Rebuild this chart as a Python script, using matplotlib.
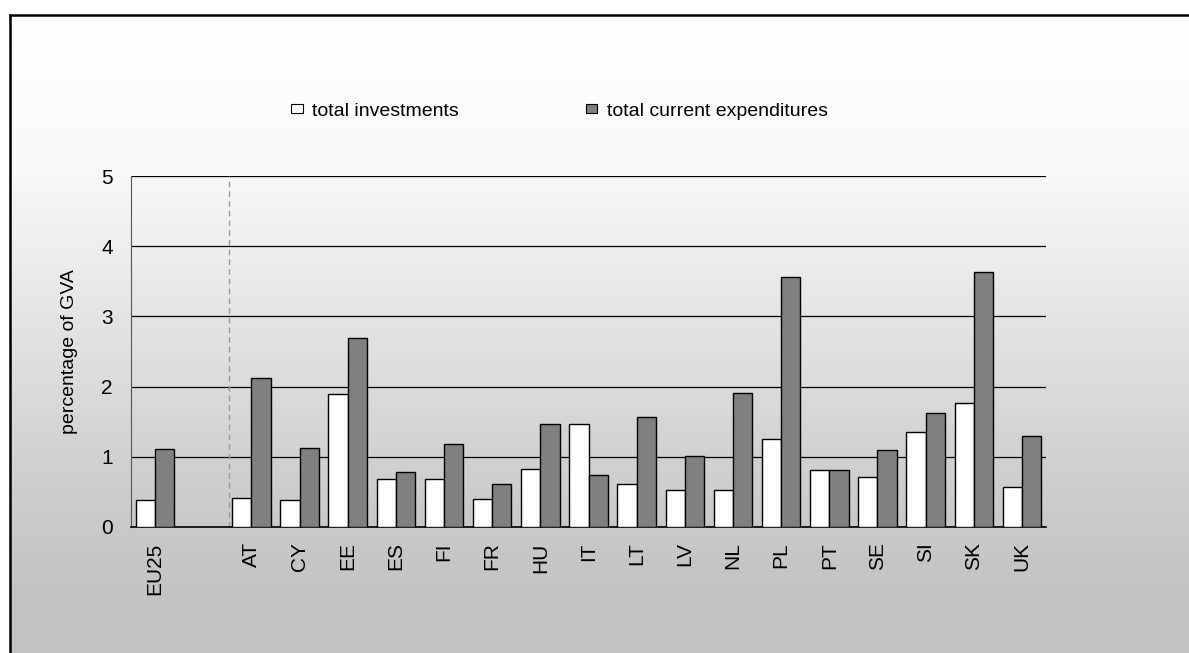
import numpy as np
import matplotlib
matplotlib.use("Agg")
import matplotlib.pyplot as plt
from matplotlib.patches import Patch

plt.rcParams['font.family'] = ['Liberation Sans', 'DejaVu Sans']

countries = ["AT", "CY", "EE", "ES", "FI", "FR", "HU", "IT", "LT",
             "LV", "NL", "PL", "PT", "SE", "SI", "SK", "UK"]
invest_eu = 0.38
current_eu = 1.11
investments = [0.42, 0.38, 1.89, 0.69, 0.68, 0.40, 0.83, 1.47, 0.61,
               0.53, 0.53, 1.25, 0.81, 0.71, 1.36, 1.77, 0.57]
current_exp = [2.12, 1.12, 2.69, 0.79, 1.18, 0.61, 1.47, 0.74, 1.57,
               1.01, 1.91, 3.56, 0.81, 1.10, 1.62, 3.63, 1.29]

labels = ["EU25"] + countries
inv_vals = [invest_eu] + investments
cur_vals = [current_eu] + current_exp
# EU25 first, then one empty slot before the member states
xpos = np.array([0] + list(range(2, 2 + len(countries))))

W, H = 1189, 653
fs = 15
fig = plt.figure(figsize=(W / 100, H / 100), dpi=100)

# grey gradient backdrop with a frame on the left and top
bg = fig.add_axes([10 / W, 0, 1 - 10 / W, (H - 15) / H])
rows = np.arange(15, H)
shade = np.interp(rows, [15, 110, 176, 460, 560, 653],
                  [254, 251, 247, 208, 197, 194]) / 255.0
bg.imshow(shade[:, None], cmap='gray', vmin=0, vmax=1, aspect='auto',
          extent=[0, 1, 0, 1], origin='upper')
bg.set_xticks([])
bg.set_yticks([])
for s in ['right', 'bottom']:
    bg.spines[s].set_visible(False)
for s in ['left', 'top']:
    bg.spines[s].set_linewidth(1.8)
    bg.spines[s].set_color('black')

ax = fig.add_axes([131 / W, 1 - 527 / H, (1046 - 131) / W, (527 - 176) / H])
ax.patch.set_alpha(0)

bw = 0.4
ax.bar(xpos - bw / 2, inv_vals, width=bw, color='white', edgecolor='black',
       linewidth=1.0, zorder=3, label='total investments')
ax.bar(xpos + bw / 2, cur_vals, width=bw, color='#808080', edgecolor='black',
       linewidth=1.0, zorder=3, label='total current expenditures')

ax.axvline(1.53, color='#999999', linestyle=(0, (4, 3)), linewidth=1.0, zorder=2)

ax.set_xlim(-0.5, 18.5)
ax.set_ylim(0, 5)
ax.set_yticks(range(0, 6))
ax.yaxis.grid(True, color='black', linewidth=0.9, zorder=1)
ax.set_axisbelow(True)
ax.set_xticks(xpos)
ax.set_xticklabels(labels, rotation=90, fontsize=fs)
ax.tick_params(axis='x', length=0, pad=11)
ax.tick_params(axis='y', length=0, pad=13, labelsize=fs)

ax.spines['top'].set_visible(False)
ax.spines['right'].set_visible(False)
ax.spines['left'].set_color('#555555')
ax.spines['bottom'].set_color('black')
ax.spines['bottom'].set_linewidth(1.2)

ax.set_ylabel("percentage of GVA", fontsize=14)
ax.yaxis.set_label_coords(-0.058, 0.5)

handles = [Patch(facecolor='white', edgecolor='black', linewidth=0.8),
           Patch(facecolor='#808080', edgecolor='black', linewidth=0.8)]
fig.legend(handles, ['total investments', 'total current expenditures'],
           loc='center left', bbox_to_anchor=(291 / W, 1 - 111 / H),
           ncol=2, frameon=False, fontsize=14, handlelength=0.6,
           handleheight=0.4, handletextpad=0.5, columnspacing=6.5,
           borderaxespad=0, borderpad=0)

fig.savefig("out.png", dpi=100)
